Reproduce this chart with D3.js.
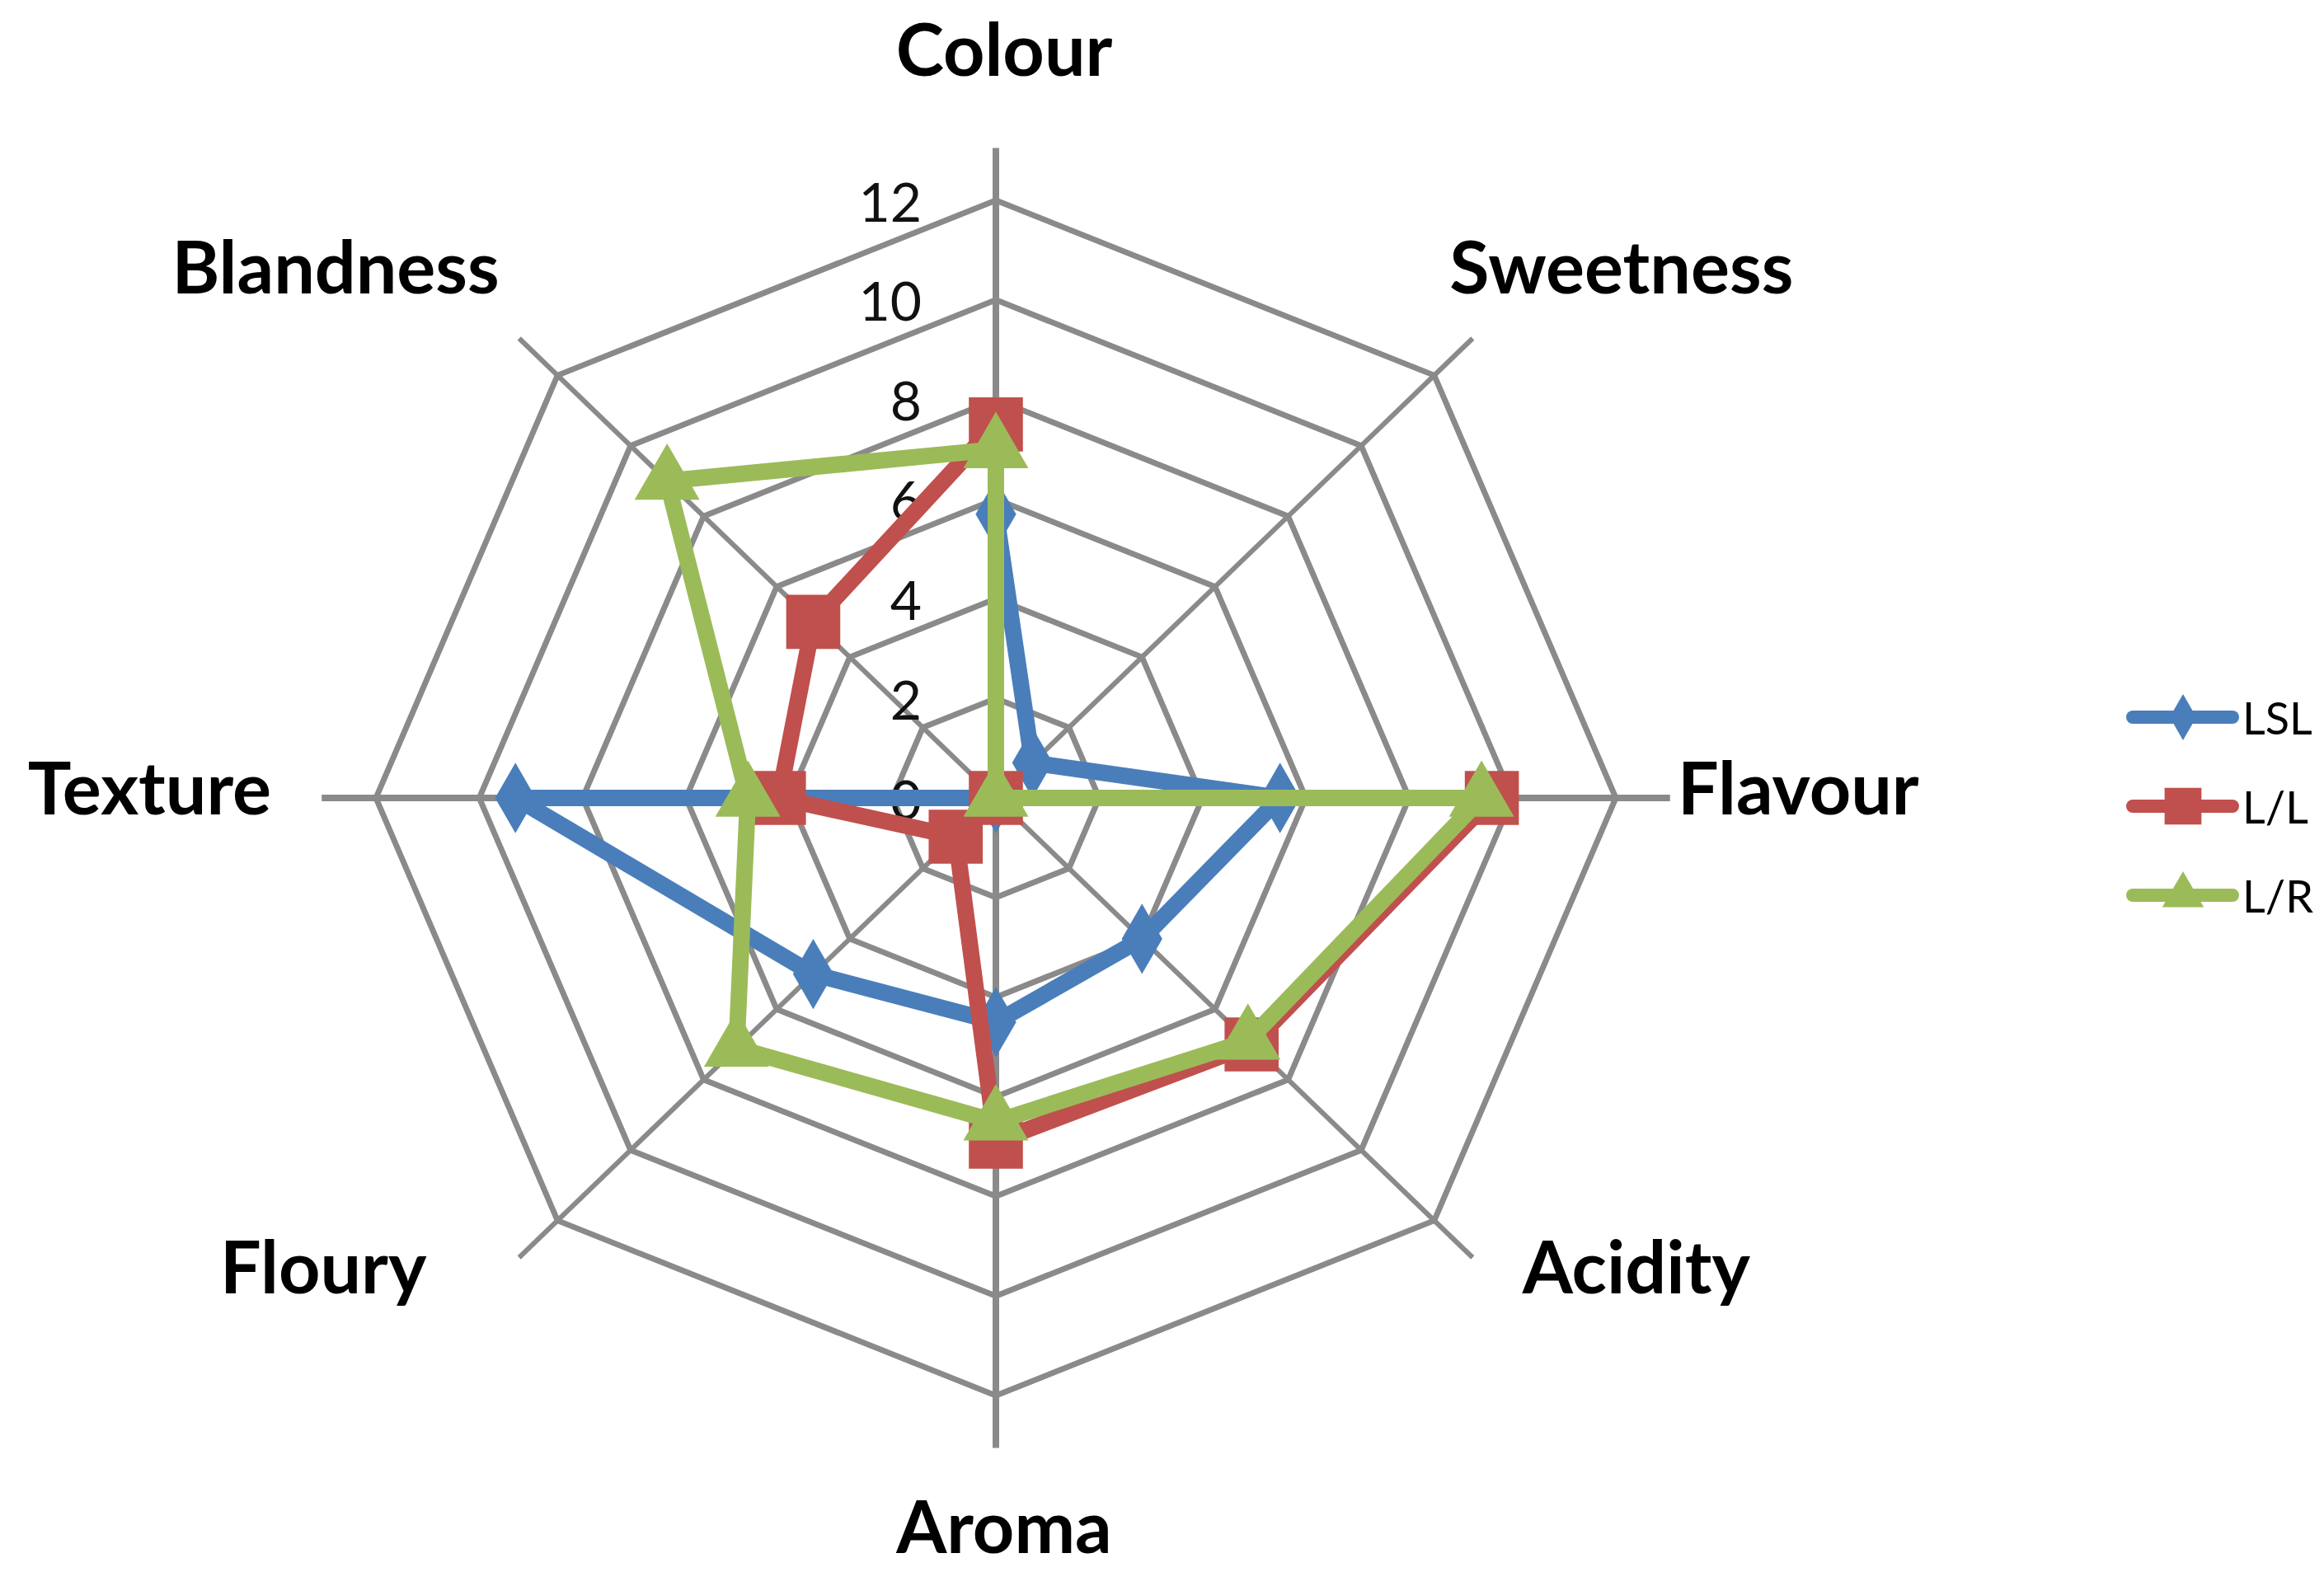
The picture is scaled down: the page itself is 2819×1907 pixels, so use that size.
<!DOCTYPE html>
<html>
<head>
<meta charset="utf-8">
<script src="https://cdn.jsdelivr.net/npm/d3@7"></script>
<style>
  body { margin: 0; background: #fff; }
  svg { display: block; }
</style>
</head>
<body>
<script>
// categories, clockwise from the top
const attributes = ["Colour", "Sweetness", "Flavour", "Acidity", "Aroma", "Floury", "Texture", "Blandness"];
const seriesNames = ["LSL", "L/L", "L/R"];
const lslValues = [5.7, 1.0, 5.5, 4.0, 4.5, 5.0, 9.3, 0];
const llValues = [7.5, 0, 9.6, 7.0, 6.9, 1.1, 4.2, 5.0];
const lrValues = [7.0, 0, 9.4, 6.9, 6.5, 7.1, 4.8, 9.0];
const tickValues = [0, 2, 4, 6, 8, 10, 12];

const width = 2819, height = 1907;
const cx = 1208, cy = 968;
const rx = 752, ry = 725; // radar is a little wider than tall

const colors = ["#4a7ebb", "#c0504d", "#9bbb59"];
const shapes = [d3.symbolDiamond, d3.symbolSquare, d3.symbolTriangle];

const r = d3.scaleLinear().domain([0, 12]).range([0, 1]);
const angle = i => i * 2 * Math.PI / attributes.length;
const px = (v, i) => cx + r(v) * rx * Math.sin(angle(i));
const py = (v, i) => cy - r(v) * ry * Math.cos(angle(i));

const svg = d3.select("body").append("svg")
  .attr("width", width).attr("height", height);

svg.append("rect").attr("width", width).attr("height", height).attr("fill", "#fff");

// rings
const grid = svg.append("g").attr("stroke", "#8a8a8a").attr("fill", "none");
tickValues.filter(t => t > 0).forEach(t => {
  grid.append("polygon")
    .attr("points", attributes.map((a, i) => [px(t, i), py(t, i)].join(",")).join(" "))
    .attr("stroke-width", 7);
});

// spokes, running a bit past the outer ring
grid.selectAll("line").data(attributes).enter().append("line")
  .attr("x1", cx).attr("y1", cy)
  .attr("x2", (d, i) => px(13.05, i))
  .attr("y2", (d, i) => py(13.05, i))
  .attr("stroke-width", (d, i) => i % 2 === 0 ? 8 : 6);

// tick labels along the Colour axis
svg.append("g").selectAll("text").data(tickValues).enter().append("text")
  .attr("x", cx - 90)
  .attr("y", d => py(d, 0))
  .attr("text-anchor", "end")
  .attr("dominant-baseline", "central")
  .attr("font-family", "Lato, 'Open Sans', sans-serif")
  .attr("font-size", 66)
  .attr("fill", "#111")
  .text(d => d);

// series
const allValues = [lslValues, llValues, lrValues];
const line = d3.line().x(d => d.x).y(d => d.y).curve(d3.curveLinearClosed);
const markerSizes = [2100, 4300, 2700];

allValues.forEach((vals, s) => {
  const pts = vals.map((v, i) => ({ x: px(v, i), y: py(v, i) }));
  const g = svg.append("g");
  g.append("path")
    .attr("d", line(pts))
    .attr("fill", "none")
    .attr("stroke", colors[s])
    .attr("stroke-width", 20)
    .attr("stroke-linejoin", "round");
  g.selectAll("path.m").data(pts).enter().append("path")
    .attr("class", "m")
    .attr("d", d3.symbol().type(shapes[s]).size(markerSizes[s]))
    .attr("transform", d => `translate(${d.x},${d.y})`)
    .attr("fill", colors[s]);
});

// category labels: placed outside the spoke ends, pushed out by half their width
svg.append("g").selectAll("text").data(attributes).enter().append("text")
  .each(function(d, i) {
    const a = angle(i);
    const sx = Math.sin(a), sy = -Math.cos(a);
    const vertical = Math.abs(sx) < 0.1;
    const onAxis = vertical || Math.abs(sy) < 0.1;
    const lower = sy > 0.1;
    const lx = onAxis ? 853 : (lower ? 940 : 815);
    const ly = onAxis ? 864 : (lower ? 777 : 848);
    const t = d3.select(this)
      .attr("font-family", "Lato, 'Open Sans', sans-serif")
      .attr("font-weight", 700)
      .attr("font-size", 88)
      .attr("fill", "#000")
      .text(d);
    const w = this.getComputedTextLength();
    const x = vertical ? cx + 10 : cx - 26 + lx * sx + Math.sign(sx) * w / 2;
    const y = cy - 14 + ly * sy + (Math.abs(sy) < 0.1 ? 0 : Math.sign(sy) * 32);
    t.attr("x", x).attr("y", y)
      .attr("text-anchor", "middle")
      .attr("dominant-baseline", "central");
  });

// legend
const legend = svg.append("g");
seriesNames.forEach((name, s) => {
  const y = 870 + s * 108;
  legend.append("line")
    .attr("x1", 2587).attr("x2", 2708)
    .attr("y1", y).attr("y2", y)
    .attr("stroke", colors[s]).attr("stroke-width", 16)
    .attr("stroke-linecap", "round");
  legend.append("path")
    .attr("d", d3.symbol().type(shapes[s]).size([900, 2000, 1100][s]))
    .attr("transform", `translate(${2648},${y})`)
    .attr("fill", colors[s]);
  legend.append("text")
    .attr("x", 2720).attr("y", y)
    .attr("dominant-baseline", "central")
    .attr("font-family", "Lato, 'Open Sans', sans-serif")
    .attr("font-size", 54)
    .attr("fill", "#000")
    .text(name);
});
</script>
</body>
</html>
